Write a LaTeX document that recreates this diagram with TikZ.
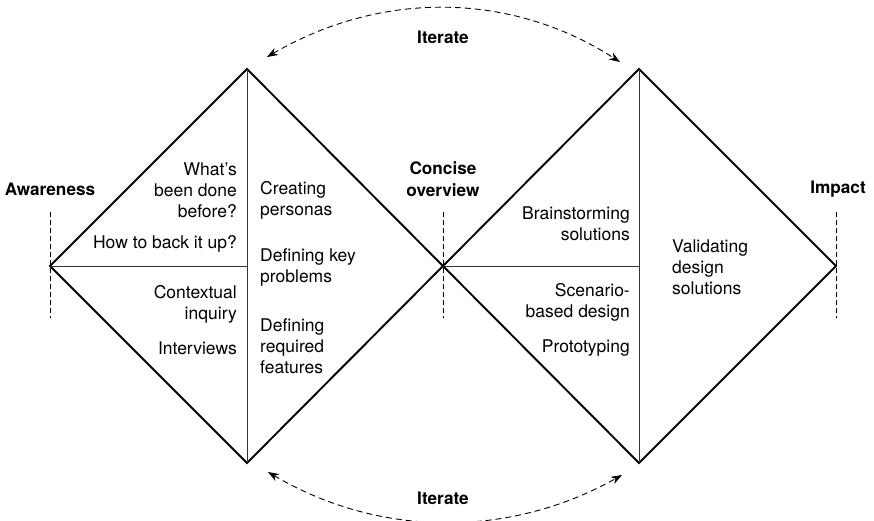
\documentclass[tikz,border=0pt]{standalone}
\usepackage{fontspec}
\setmainfont{TeX Gyre Heros}
\usetikzlibrary{arrows.meta}

\tikzset{
  rim/.style={line width=1.9pt, line join=miter},
  split/.style={line width=0.8pt, black!80},
  marker/.style={line width=0.7pt, dash pattern=on 5pt off 3pt},
  loopback/.style={line width=0.9pt, dash pattern=on 6pt off 4pt,
    {Stealth[length=11pt,width=8pt]}-{Stealth[length=11pt,width=8pt]}},
  lbl/.style={font=\fontsize{17.5}{21}\selectfont, inner sep=0pt},
  head/.style={font=\fontsize{17.2}{22}\selectfont\bfseries, inner sep=0pt, align=center},
}

\begin{document}
\begin{tikzpicture}[x=1pt,y=-1pt]
	\useasboundingbox (0,0) rectangle (874,520);
	% corners of the two diamonds
	\coordinate (aw) at (50,266);
	\coordinate (ltop) at (247,69);
	\coordinate (lmid) at (247,266);
	\coordinate (lbot) at (247,463);
	\coordinate (co) at (443,266);
	\coordinate (rtop) at (639,69);
	\coordinate (rmid) at (639,266);
	\coordinate (rbot) at (639,463);
	\coordinate (im) at (836,266);
	% outline and inner splits
	\draw[rim] (aw) -- (ltop) -- (co) -- (rtop) -- (im) -- (rbot) -- (co) -- (lbot) -- cycle;
	\draw[split] (ltop) -- (lbot);
	\draw[split] (aw) -- (lmid);
	\draw[split] (rtop) -- (rbot);
	\draw[split] (co) -- (rmid);
	% dashed markers under the stage names
	\foreach \x in {50,443,836}
		\draw[marker] (\x,212) -- (\x,318);
	% stage names
	\node[head] (awareness) at (50,189) {Awareness};
	\node[head] (concise) at (443,179) {Concise\\overview};
	\node[head] (impact) at (838,189) {Impact};
	% left diamond
	\node[lbl, anchor=east, align=right] (done) at (237,190) {What's\\been done\\before?};
	\node[lbl, anchor=east] (back) at (237,244) {How to back it up?};
	\node[lbl, anchor=east, align=right] (ctx) at (237,304) {Contextual\\inquiry};
	\node[lbl, anchor=east] (intv) at (237,348) {Interviews};
	\node[lbl, anchor=west, align=left] (pers) at (260,200) {Creating\\personas};
	\node[lbl, anchor=west, align=left] (keyp) at (260,267) {Defining key\\problems};
	\node[lbl, anchor=west, align=left] (feat) at (260,346) {Defining\\required\\features};
	% right diamond
	\node[lbl, anchor=east, align=right] (brain) at (630,224) {Brainstorming\\solutions};
	\node[lbl, anchor=east, align=right] (scen) at (630,302) {Scenario-\\based design};
	\node[lbl, anchor=east] (proto) at (630,348) {Prototyping};
	\node[lbl, anchor=west, align=left] (valid) at (672,267) {Validating\\design\\solutions};
	% iteration loops
	\coordinate (t1) at (267,57);
	\coordinate (t2) at (620,62);
	\coordinate (b1) at (268,472);
	\coordinate (b2) at (622,475);
	\draw[loopback] (t1) .. controls (380,-9) and (510,-9) .. (t2);
	\draw[loopback] (b1) .. controls (380,538) and (510,538) .. (b2);
	\node[head] (itertop) at (443,37) {Iterate};
	\node[head] (iterbot) at (443,498) {Iterate};
\end{tikzpicture}
\end{document}
